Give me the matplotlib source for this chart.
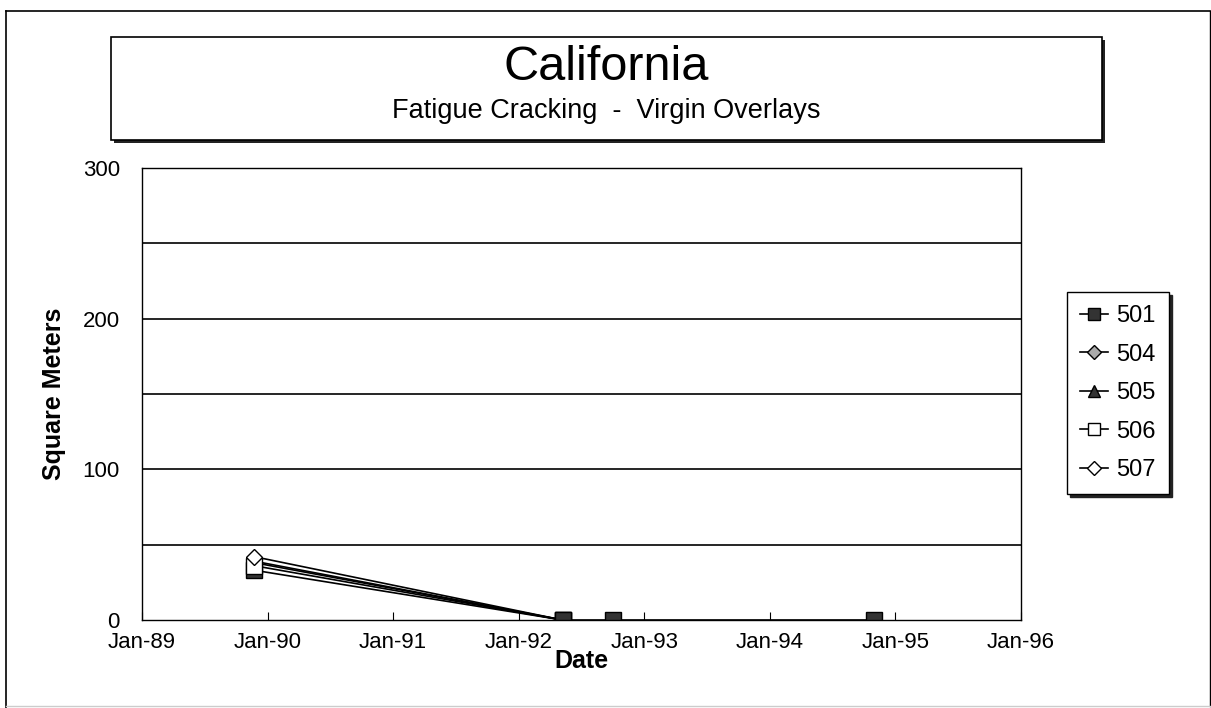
import matplotlib
matplotlib.use("Agg")
import matplotlib.pyplot as plt
import matplotlib.dates as mdates
from matplotlib.patches import Rectangle
from matplotlib.lines import Line2D
import pandas as pd

plt.rcParams["font.family"] = ["Liberation Sans", "DejaVu Sans"]

# --- DATA ---
sections = ["501", "504", "505", "506", "507"]
survey_dates = ["1989-11-24", "1992-05-08"]
late_dates = ["1992-05-08", "1992-10-01", "1994-10-30"]
area_501 = [33, 0]
area_504 = [38, 0]
area_505 = [39, 0]
area_506 = [36, 0]
area_507 = [42, 0]
late_501 = [0, 0, 0]
year_ticks = ["1989", "1990", "1991", "1992", "1993", "1994", "1995", "1996"]

W, H = 1211, 708
fig = plt.figure(figsize=(W / 100, H / 100), dpi=100)


def fx(px):
    return px / W


def fy(py):
    return 1 - py / H


# outer frame
fig.add_artist(Line2D([fx(6), fx(6)], [fy(11), 0], color="black", lw=1.2))
fig.add_artist(Line2D([fx(6), fx(1210)], [fy(11), fy(11)], color="black", lw=1.2))
fig.add_artist(Line2D([fx(1210), fx(1210)], [fy(11), fy(706)], color="black", lw=1.0))
fig.add_artist(Line2D([fx(6), fx(1210)], [fy(706), fy(706)], color="#cccccc", lw=1.0))

# title box with shadow
fig.add_artist(Rectangle((fx(114), fy(143)), fx(1102 - 111), 103 / H,
                         facecolor="#222222", edgecolor="none"))
fig.add_artist(Rectangle((fx(111), fy(140)), fx(1102 - 111), 103 / H,
                         facecolor="white", edgecolor="black", lw=1.2))
fig.text(fx(606), fy(67), "California", ha="center", va="center", fontsize=35)
fig.text(fx(606), fy(111), "Fatigue Cracking  -  Virgin Overlays",
         ha="center", va="center", fontsize=19.5)

ax = fig.add_axes([fx(142), fy(620), fx(1021 - 142), (620 - 168) / H])

styles = {
    "501": dict(marker="s", mfc="#333333", mec="black"),
    "504": dict(marker="D", mfc="#aaaaaa", mec="black", markersize=8),
    "505": dict(marker="^", mfc="#333333", mec="black"),
    "506": dict(marker="s", mfc="white", mec="black"),
    "507": dict(marker="D", mfc="white", mec="black", markersize=8),
}
values = [area_501, area_504, area_505, area_506, area_507]
x = pd.to_datetime(survey_dates)
handles = []
for name, vals in zip(sections, values):
    st = dict(markersize=11, mew=1.0)
    st.update(styles[name])
    (h,) = ax.plot(x, vals, color="black", lw=1.2, label=name, **st)
    handles.append(h)
ax.plot(pd.to_datetime(late_dates), late_501, color="black", lw=1.2,
        **dict(markersize=11, mew=1.0, **styles["501"]))

ax.set_ylim(0, 300)
ax.set_yticks([0, 100, 200, 300])
for g in [50, 100, 150, 200, 250]:
    ax.axhline(g, color="black", lw=1.2, zorder=0)
ax.set_xlim(pd.Timestamp("1989-01-01"), pd.Timestamp("1996-01-01"))
ax.set_xticks(pd.to_datetime([y + "-01-01" for y in year_ticks]))
ax.xaxis.set_major_formatter(mdates.DateFormatter("%b-%y"))
ax.tick_params(axis="x", direction="in", length=6, labelsize=16, pad=9)
ax.tick_params(axis="y", length=0, labelsize=16, pad=16)
for s in ax.spines.values():
    s.set_linewidth(1.0)

ax.set_xlabel("Date", fontsize=18, fontweight="bold", labelpad=-3)
ax.set_ylabel("Square Meters", fontsize=18, fontweight="bold", labelpad=12)

leg = fig.legend(handles, sections, loc="upper left",
                 bbox_to_anchor=(fx(1067), fy(292)), bbox_transform=fig.transFigure,
                 borderaxespad=0, fontsize=17, frameon=True, fancybox=False,
                 handlelength=1.2, handletextpad=0.35, labelspacing=0.7,
                 borderpad=0.55, markerscale=0.85,
                 shadow={"color": "#222222", "alpha": 1.0})
leg.get_frame().set_edgecolor("black")
leg.get_frame().set_linewidth(1.0)

fig.savefig("out.png", dpi=100)
